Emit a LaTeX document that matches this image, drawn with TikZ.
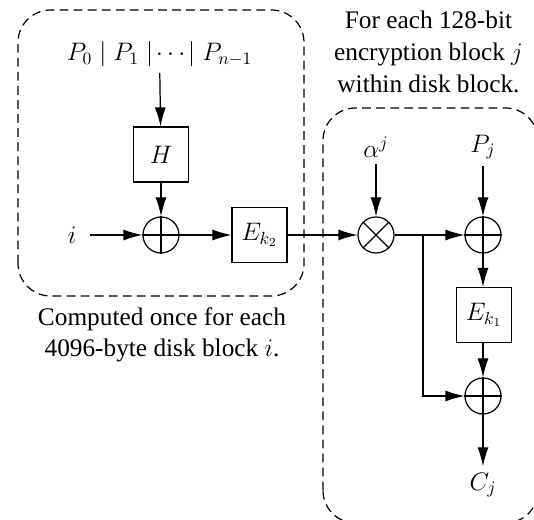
\documentclass[tikz,border=0pt]{standalone}
\usepackage[no-math]{fontspec}
\setmainfont{Liberation Serif}
\usepackage{amsmath}
\usepackage{tikz}
\usetikzlibrary{arrows.meta,positioning}

\begin{document}
\begin{tikzpicture}[
  line width=0.7pt,
  font=\fontsize{14.4}{18}\selectfont,
  blk/.style={draw, minimum width=1.1cm, minimum height=1.1cm, inner sep=0pt},
  op/.style={draw, circle, minimum size=0.72cm, inner sep=0pt},
  grp/.style={dash pattern=on 5pt off 3pt, rounded corners=0.65cm},
  arr/.style={-{Latex[length=0.38cm, width=0.22cm]}}
]
\clip (0,0) rectangle (10.68,10.4);
% dashed groups
\draw[grp] (0.36,4.48) rectangle (6.08,10.2);
\draw[grp] (6.46,-0.06) rectangle (10.76,8.24);
% per disk block
\node (msg) at (3.19,9.32) {$P_0 \mid P_1 \mid\!\cdots\!\mid P_{n-1}$};
\node[blk] (h) at (3.22,7.31) {$H$};
\node[op] (x1) at (3.22,5.70) {};
\node (i) at (1.44,5.70) {$i$};
\node[blk] (ek2) at (5.19,5.70) {$E_{k_2}$};
\draw (x1.north) -- (x1.south); \draw (x1.west) -- (x1.east);
\draw[arr] (msg) -- (h);
\draw[arr] (h) -- (x1);
\draw[arr, shorten <=4pt] (i) -- (x1);
\draw[arr] (x1) -- (ek2);
% per encryption block
\node (al) at (7.52,7.46) {$\alpha^j$};
\node[op] (m) at (7.52,5.70) {};
\draw (m.north west) -- (m.south east); \draw (m.north east) -- (m.south west);
\node (pj) at (9.66,7.46) {$P_j$};
\node[op] (x2) at (9.66,5.70) {};
\draw (x2.north) -- (x2.south); \draw (x2.west) -- (x2.east);
\node[blk] (ek1) at (9.68,4.10) {$E_{k_1}$};
\node[op] (x3) at (9.66,2.48) {};
\draw (x3.north) -- (x3.south); \draw (x3.west) -- (x3.east);
\node (cj) at (9.66,0.70) {$C_j$};
\coordinate (br) at (8.46,5.70);
\draw[arr] (ek2) -- (m);
\draw[arr] (al) -- (m);
\draw[arr] (m) -- (x2);
\draw[arr] (pj) -- (x2);
\draw[arr] (x2) -- (ek1.north -| x2);
\draw[arr] (ek1.south -| x3) -- (x3);
\draw[arr] (br) |- (x3);
\draw[arr] (x3) -- (cj);
% captions
\node[align=center] (capr) at (8.57,9.36) {For each 128-bit\\encryption block $j$\\within disk block.};
\node[align=center] (capl) at (3.24,3.70) {Computed once for each\\4096-byte disk block $i$.};
\end{tikzpicture}
\end{document}
